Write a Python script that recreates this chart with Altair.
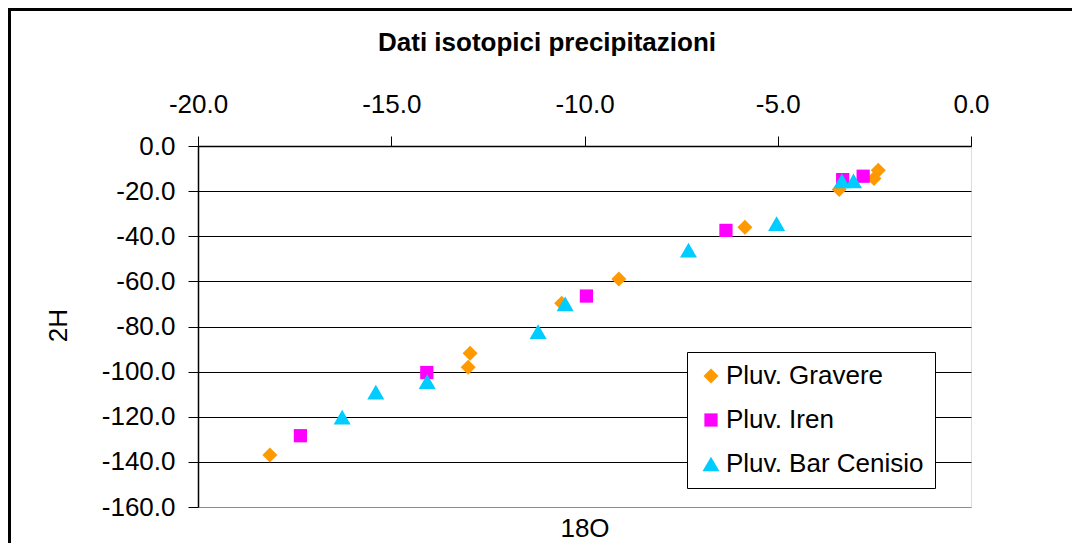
import altair as alt
import pandas as pd

# ---- data ----
chart_title = "Dati isotopici precipitazioni"
series_names = ["Pluv. Gravere", "Pluv. Iren", "Pluv. Bar Cenisio"]
series_colors = ["#FF9900", "#FF00FF", "#00CCFF"]
series_shapes = ["diamond", "square", "triangle-up"]
series_sizes = [225, 175, 290]

gravere_o18 = [-18.14, -13.01, -12.96, -10.59, -9.11, -5.85, -3.41, -2.51, -2.40]
gravere_h2 = [-136.9, -98.1, -91.9, -69.7, -59.0, -36.0, -19.3, -14.4, -10.8]
iren_o18 = [-17.35, -14.08, -9.95, -6.34, -3.32, -2.79]
iren_h2 = [-128.4, -100.4, -66.5, -37.4, -14.9, -13.4]
cenisio_o18 = [-16.27, -15.40, -14.07, -11.20, -10.50, -7.31, -5.03, -3.34, -3.04]
cenisio_h2 = [-120.2, -109.1, -104.4, -82.3, -70.0, -46.2, -34.4, -15.5, -15.5]

x_ticks = [-20, -15, -10, -5, 0]
y_ticks = [0, -20, -40, -60, -80, -100, -120, -140, -160]

rows = []
for name, xs, ys in zip(series_names,
                        [gravere_o18, iren_o18, cenisio_o18],
                        [gravere_h2, iren_h2, cenisio_h2]):
    for xv, yv in zip(xs, ys):
        rows.append({"series": name, "o18": xv, "h2": yv})
df = pd.DataFrame(rows)

W, H = 773, 361
PAD_L, PAD_T, PAD_R, PAD_B = 190, 138, 101, 36
FONT = "Liberation Sans"
label_expr = "(datum.value < 0 ? '-' : '') + format(abs(datum.value), '.1f')"

points = alt.Chart(df).mark_point(filled=True, opacity=1, strokeWidth=0).encode(
    x=alt.X(
        "o18:Q",
        scale=alt.Scale(domain=[-20, 0], nice=False, zero=False),
        axis=alt.Axis(
            orient="top", values=x_ticks, labelExpr=label_expr, grid=False,
            labelFlush=False, labelOverlap=False,
            tickSize=10, tickColor="black", tickWidth=1,
            domainColor="black", domainWidth=1.5,
            labelFontSize=26, labelColor="black", labelPadding=19, labelFont=FONT,
            title="18O", titleX=W / 2, titleY=382, titleBaseline="middle",
            titleAlign="center", titleFontSize=26, titleFontWeight="normal",
            titleFont=FONT, titleColor="black",
        ),
    ),
    y=alt.Y(
        "h2:Q",
        scale=alt.Scale(domain=[-160, 0], nice=False, zero=False),
        axis=alt.Axis(
            orient="left", values=y_ticks, labelExpr=label_expr,
            labelFlush=False, labelOverlap=False,
            grid=True, gridWidth=1,
            gridColor={"condition": {"test": "datum.value == -160", "value": "#8c8c8c"},
                       "value": "black"},
            tickSize=10, tickColor="black", tickWidth=1,
            domainColor="black", domainWidth=1.5,
            labelFontSize=26, labelColor="black", labelPadding=13, labelFont=FONT,
            title="2H", titleX=-140, titleY=179, titleAngle=270,
            titleBaseline="middle", titleAlign="center", titleFontSize=26,
            titleFontWeight="normal", titleFont=FONT, titleColor="black",
        ),
    ),
    color=alt.Color(
        "series:N",
        scale=alt.Scale(domain=series_names, range=series_colors),
        legend=alt.Legend(
            title=None, orient="none", legendX=489, legendY=206,
            strokeColor="black", fillColor="white", padding=11,
            labelFontSize=26, labelFont=FONT, labelColor="black", labelLimit=0,
            rowPadding=18, labelOffset=2, symbolOffset=0,
            symbolStrokeWidth=0, cornerRadius=0,
        ),
    ),
    shape=alt.Shape("series:N", scale=alt.Scale(domain=series_names, range=series_shapes)),
    size=alt.Size("series:N", scale=alt.Scale(type="ordinal", domain=series_names,
                                              range=series_sizes)),
)

one = alt.Data(values=[{"label": chart_title}])
frame_top = alt.Chart(one).mark_rule(color="black", strokeWidth=3).encode(
    x=alt.value(-PAD_L), x2=alt.value(W + PAD_R), y=alt.value(-PAD_T + 1.5)
)
frame_left = alt.Chart(one).mark_rule(color="black", strokeWidth=3).encode(
    x=alt.value(-PAD_L + 1.5), y=alt.value(-PAD_T), y2=alt.value(H + PAD_B)
)
title_text = alt.Chart(one).mark_text(
    font=FONT, fontSize=26, fontWeight="bold", color="black",
    align="center", baseline="alphabetic",
).encode(text="label:N", x=alt.value(349), y=alt.value(-95.5))

chart = alt.layer(frame_top, frame_left, title_text, points).properties(
    width=W, height=H,
    padding={"left": PAD_L, "top": PAD_T, "right": PAD_R, "bottom": PAD_B},
    autosize=alt.AutoSizeParams(type="none"),
).configure_view(
    stroke="#8c8c8c", strokeWidth=2.5
).configure(font=FONT, background="white")

chart.save("out.html", embed_options={"renderer": "svg", "actions": False})
